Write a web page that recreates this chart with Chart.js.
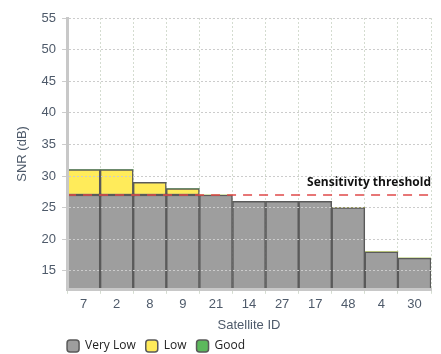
<!DOCTYPE html>
<html>
<head>
<meta charset="utf-8">
<script src="https://cdn.jsdelivr.net/npm/chart.js@4"></script>
<style>
  html, body { margin: 0; padding: 0; background: #fff; }
  #wrap { width: 441px; height: 354px; }
</style>
</head>
<body>
<div id="wrap"><canvas id="snrChart"></canvas></div>
<script>
// satellites on the x axis
let satIds = ['7', '2', '8', '9', '21', '14', '27', '17', '48', '4', '30'];
// stacked parts of each bar (dB)
let veryLow = [27, 27, 27, 27, 27, 26, 26, 26, 25, 18, 17];
let low = [4, 4, 2, 1, 0, 0, 0, 0, 0, 0, 0];
let good = [0, 0, 0, 0, 0, 0, 0, 0, 0, 0, 0];
let yTicks = [15, 20, 25, 30, 35, 40, 45, 50, 55];
let threshold = 27;
let thresholdLabel = 'Sensitivity threshold';

let tickColor = '#4e5a6a';
let barBorder = '#5a5a5a';
let legendPad = 10;

// red dashed line + label
let thresholdPlugin = {
    id: 'thresholdLine',
    afterLayout(chart) {
        // legend starts at the plot's left edge like the original
        chart.legend.left = chart.chartArea.left - legendPad;
        chart.legend.top -= 3;
    },
    afterDatasetsDraw(chart) {
        let ctx = chart.ctx;
        let area = chart.chartArea;
        let y = chart.scales.y.getPixelForValue(threshold);
        ctx.save();
        ctx.strokeStyle = '#e04a4a';
        ctx.lineWidth = 1.5;
        ctx.setLineDash([9, 7]);
        ctx.beginPath();
        ctx.moveTo(area.left, y);
        ctx.lineTo(area.right, y);
        ctx.stroke();
        ctx.setLineDash([]);
        ctx.fillStyle = '#111';
        ctx.font = 'bold 12px "Open Sans"';
        ctx.textAlign = 'right';
        ctx.textBaseline = 'bottom';
        ctx.fillText(thresholdLabel, area.right, y - 6);
        ctx.restore();
    }
};

// no outline on empty stack segments
let bw = c => (c.raw ? 1.5 : 0);

let ctx = document.getElementById('snrChart').getContext('2d');
let snrChart = new Chart(ctx, {
    type: 'bar',
    data: {
        labels: satIds,
        datasets: [{
            label: 'Very Low',
            data: veryLow,
            backgroundColor: '#9e9e9e',
            borderColor: barBorder,
            borderWidth: bw
        }, {
            label: 'Low',
            data: low,
            backgroundColor: '#ffeb5a',
            borderColor: barBorder,
            borderWidth: bw
        }, {
            label: 'Good',
            data: good,
            backgroundColor: '#5cb85c',
            borderColor: barBorder,
            borderWidth: bw
        }]
    },
    options: {
        responsive: true,
        maintainAspectRatio: false,
        animation: false,
        layout: { padding: { top: 18, right: 10, left: 11, bottom: -11 } },
        datasets: { bar: { barPercentage: 1, categoryPercentage: 1, borderSkipped: false } },
        scales: {
            x: {
                stacked: true,
                title: { display: true, text: 'Satellite ID', color: tickColor, font: { family: 'Liberation Sans', size: 13 }, padding: { top: 2, bottom: 0 } },
                ticks: { color: tickColor, font: { family: 'Liberation Sans', size: 13 }, padding: 3 },
                grid: {
                    offset: true,
                    color: '#d4dcd0',
                    lineWidth: c => (c.index === satIds.length ? 2.5 : 1),
                    tickLength: 4
                },
                border: { color: '#c8c8c8', width: 3, dash: [2, 2], z: 1 }
            },
            y: {
                stacked: true,
                min: 12,
                max: 55,
                afterBuildTicks: axis => { axis.ticks = yTicks.map(v => ({ value: v })); },
                title: { display: true, text: 'SNR (dB)', color: tickColor, font: { family: 'Liberation Sans', size: 13 }, padding: { bottom: 5 } },
                ticks: { color: tickColor, font: { family: 'Liberation Sans', size: 13 }, padding: 6 },
                grid: { color: '#cccccc', tickLength: 5, z: 1 },
                border: { color: '#c8c8c8', width: 3, dash: [2, 2], z: 2 }
            }
        },
        plugins: {
            legend: {
                position: 'bottom',
                align: 'start',
                fullSize: false,
                labels: {
                    color: '#222',
                    font: { family: 'Open Sans', size: 12 },
                    boxWidth: 12,
                    boxHeight: 12,
                    useBorderRadius: true,
                    borderRadius: 3,
                    padding: legendPad,
                    generateLabels: chart => Chart.defaults.plugins.legend.labels.generateLabels(chart)
                        .map(l => Object.assign(l, { lineWidth: 1.5, strokeStyle: barBorder }))
                }
            },
            tooltip: { enabled: false }
        }
    },
    plugins: [thresholdPlugin]
});
</script>
</body>
</html>
